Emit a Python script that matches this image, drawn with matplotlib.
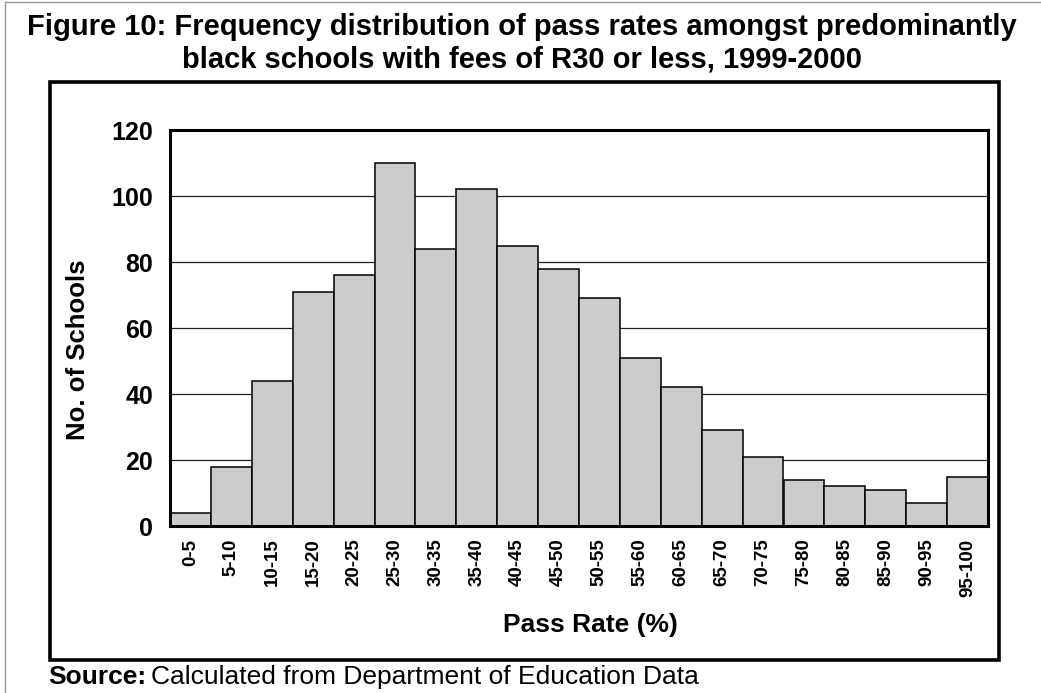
import matplotlib
matplotlib.use("Agg")
import matplotlib.pyplot as plt
from matplotlib.patches import Rectangle
from matplotlib.lines import Line2D
import numpy as np

plt.rcParams['font.family'] = ['Liberation Sans', 'DejaVu Sans']

# Pass-rate bands (%) and number of schools in each band
bands = ["0-5", "5-10", "10-15", "15-20", "20-25", "25-30", "30-35", "35-40",
         "40-45", "45-50", "50-55", "55-60", "60-65", "65-70", "70-75",
         "75-80", "80-85", "85-90", "90-95", "95-100"]
schools = [4, 18, 44, 71, 76, 110, 84, 102, 85, 78, 69, 51, 42, 29, 21,
           14, 12, 11, 7, 15]
y_ticks = [0, 20, 40, 60, 80, 100, 120]

W, H = 1041, 693
fig = plt.figure(figsize=(W / 100, H / 100), dpi=100)

def fx(px):
    return px / W

def fy(py):
    return 1 - py / H

# Plot area
left, right, top, bottom = 170, 988, 130, 526
ax = fig.add_axes([fx(left), fy(bottom), fx(right - left), (bottom - top) / H])

x = np.arange(len(bands))
ax.bar(x, schools, width=1.0, color="#cccccc", edgecolor="black",
       linewidth=1.1, zorder=3)
ax.set_xlim(-0.5, len(bands) - 0.5)
ax.set_ylim(0, 120)
ax.set_yticks(y_ticks)
ax.set_yticklabels([str(v) for v in y_ticks], fontsize=18, fontweight="bold")
ax.set_xticks(x)
ax.set_xticklabels(bands, rotation=90, fontsize=13.5, fontweight="bold",
                   va="top", ha="center")
ax.tick_params(axis="both", length=0)
ax.tick_params(axis="y", pad=12)
ax.tick_params(axis="x", pad=9)
for v in y_ticks[1:-1]:
    ax.axhline(v, color="#222222", linewidth=0.9, zorder=1)
for s in ax.spines.values():
    s.set_linewidth(2.2)
    s.set_color("black")
    s.set_zorder(5)

# Axis titles
fig.text(fx(78), fy(350), "No. of Schools", rotation=90, fontsize=18.5,
         fontweight="bold", ha="center", va="center")
fig.text(fx(590), fy(625), "Pass Rate (%)", fontsize=19,
         fontweight="bold", ha="center", va="center")

# Chart frame
fig.patches.append(Rectangle((fx(50), fy(660)), fx(999 - 50), (660 - 82) / H,
                             transform=fig.transFigure, fill=False,
                             edgecolor="black", linewidth=2.6, zorder=10))
# Thin outer border (top and left)
fig.lines.append(Line2D([fx(5), fx(5)], [0, fy(2)], transform=fig.transFigure,
                        color="#999999", linewidth=1.0))
fig.lines.append(Line2D([fx(5), 1], [fy(2), fy(2)], transform=fig.transFigure,
                        color="#999999", linewidth=1.0))

# Title
fig.text(fx(522), fy(35), "Figure 10: Frequency distribution of pass rates amongst predominantly",
         fontsize=21, fontweight="bold", ha="center", va="baseline")
fig.text(fx(522), fy(68), "black schools with fees of R30 or less, 1999-2000",
         fontsize=21, fontweight="bold", ha="center", va="baseline")

# Source note
src = fig.text(fx(48), fy(677), "Source:", fontsize=19, fontweight="bold",
               ha="left", va="center")
fig.canvas.draw()
bb = src.get_window_extent()
fig.text(bb.x1 / W + fx(5), fy(677), "Calculated from Department of Education Data",
         fontsize=19, ha="left", va="center")

fig.savefig("out.png", dpi=100)
